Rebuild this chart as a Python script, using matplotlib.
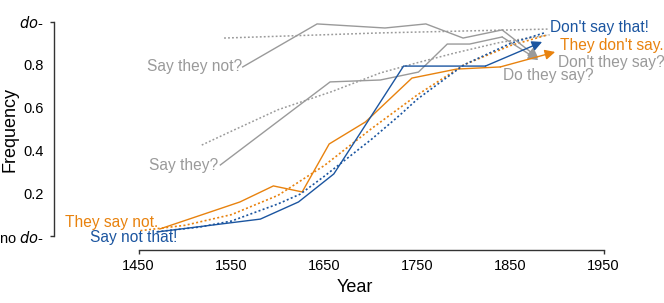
import matplotlib.pyplot as plt

ORANGE = '#E8820E'
BLUE = '#1B55A0'
GREY = '#9A9A9A'

plt.rcParams['font.family'] = ['Liberation Sans', 'DejaVu Sans']

# observed proportions (last point = arrow tip)
say_they_not_years = [1562, 1642, 1715, 1759, 1799, 1841, 1880]
say_they_not_freq = [0.790, 0.991, 0.972, 0.991, 0.925, 0.963, 0.832]

say_they_years = [1538, 1656, 1710, 1751, 1782, 1806, 1841, 1880]
say_they_freq = [0.332, 0.720, 0.729, 0.766, 0.897, 0.897, 0.930, 0.822]

they_say_not_years = [1473, 1559, 1595, 1626, 1655, 1694, 1744, 1792, 1839, 1898]
they_say_not_freq = [0.033, 0.159, 0.234, 0.206, 0.430, 0.533, 0.738, 0.780, 0.790, 0.860]

say_not_that_years = [1470, 1581, 1622, 1660, 1735, 1823, 1884]
say_not_that_freq = [0.019, 0.079, 0.159, 0.290, 0.794, 0.794, 0.907]

# fitted trends (dotted)
fit_say_they_not_years = [1542, 1710, 1891]
fit_say_they_not_freq = [0.925, 0.949, 0.967]

fit_say_they_years = [1518, 1550, 1600, 1658, 1710, 1750, 1790, 1839, 1892]
fit_say_they_freq = [0.425, 0.49, 0.59, 0.675, 0.762, 0.81, 0.855, 0.905, 0.94]

fit_they_say_not_years = [1452, 1500, 1550, 1600, 1650, 1700, 1750, 1800, 1850, 1890]
fit_they_say_not_freq = [0.025, 0.05, 0.10, 0.19, 0.33, 0.50, 0.66, 0.80, 0.89, 0.94]

fit_say_not_that_years = [1470, 1516, 1550, 1600, 1624, 1650, 1700, 1731, 1750, 1800, 1850, 1887]
fit_say_not_that_freq = [0.02, 0.042, 0.07, 0.15, 0.196, 0.28, 0.45, 0.565, 0.64, 0.80, 0.90, 0.95]

y_ticks = [0, 0.2, 0.4, 0.6, 0.8, 1.0]
y_tick_labels = ['no $\\it{do}$-', '0.2', '0.4', '0.6', '0.8', '$\\it{do}$-']
x_ticks = [1450, 1550, 1650, 1750, 1850, 1950]

DOTS = (0, (1.2, 1.4))


def draw_series(ax, years, freq, color):
    ax.plot(years[:-1], freq[:-1], color=color, lw=1.0, solid_joinstyle='miter')
    ax.annotate('', xy=(years[-1], freq[-1]), xytext=(years[-2], freq[-2]),
                arrowprops=dict(arrowstyle='-|>', color=color, lw=1.0,
                                mutation_scale=15, shrinkA=0, shrinkB=0))


fig = plt.figure(figsize=(6.64, 3.03), dpi=100)
ax = fig.add_axes([54 / 664, 1 - 250 / 303, 549.5 / 664, 228 / 303])

ax.plot(fit_say_they_not_years, fit_say_they_not_freq, color=GREY, lw=1.1, ls=DOTS)
ax.plot(fit_say_they_years, fit_say_they_freq, color=GREY, lw=1.1, ls=DOTS)
draw_series(ax, say_they_not_years, say_they_not_freq, GREY)
draw_series(ax, say_they_years, say_they_freq, GREY)

ax.plot(fit_they_say_not_years, fit_they_say_not_freq, color=ORANGE, lw=1.2, ls=DOTS)
draw_series(ax, they_say_not_years, they_say_not_freq, ORANGE)
ax.plot(fit_say_not_that_years, fit_say_not_that_freq, color=BLUE, lw=1.2, ls=DOTS)
draw_series(ax, say_not_that_years, say_not_that_freq, BLUE)

fs = 11.2
ax.text(1561, 0.79, 'Say they not?', color=GREY, fontsize=fs, ha='right', va='center')
ax.text(1536, 0.33, 'Say they?', color=GREY, fontsize=fs, ha='right', va='center')
ax.text(1471, 0.065, 'They say not.', color=ORANGE, fontsize=fs, ha='right', va='center')
ax.text(1492, -0.008, 'Say not that!', color=BLUE, fontsize=fs, ha='right', va='center')
ax.text(1893, 0.975, "Don't say that!", color=BLUE, fontsize=fs, ha='left', va='center')
ax.text(1903, 0.89, "They don't say.", color=ORANGE, fontsize=fs, ha='left', va='center')
ax.text(1901, 0.81, "Don't they say?", color=GREY, fontsize=fs, ha='left', va='center')
ax.text(1842, 0.75, 'Do they say?', color=GREY, fontsize=fs, ha='left', va='center')

ax.set_xlim(1359.1, 1950)
ax.set_ylim(-0.0654, 1.0)
for side in ['top', 'right']:
    ax.spines[side].set_visible(False)
ax.spines['left'].set_bounds(0, 1)
ax.spines['bottom'].set_bounds(1450, 1950)
for side in ['left', 'bottom']:
    ax.spines[side].set_linewidth(1.0)
    ax.spines[side].set_color('#333333')

ax.set_yticks(y_ticks)
ax.set_yticklabels(y_tick_labels)
ax.set_xticks(x_ticks)
ax.tick_params(axis='both', labelsize=10.5, length=3, width=1.0, color='#333333')
ax.tick_params(axis='y', pad=4.3)
ax.tick_params(axis='x', pad=3.5)
for tick in ax.yaxis.get_major_ticks()[1:-1]:
    tick.tick1line.set_visible(False)
for tick in ax.xaxis.get_major_ticks()[1:-1]:
    tick.tick1line.set_visible(False)

fig.text(10 / 664, 1 - 130 / 303, 'Frequency', rotation=90, ha='center', va='center', fontsize=13)
fig.text(355 / 664, 1 - 287 / 303, 'Year', ha='center', va='center', fontsize=13)

plt.savefig('out.png', dpi=100)
plt.close()
